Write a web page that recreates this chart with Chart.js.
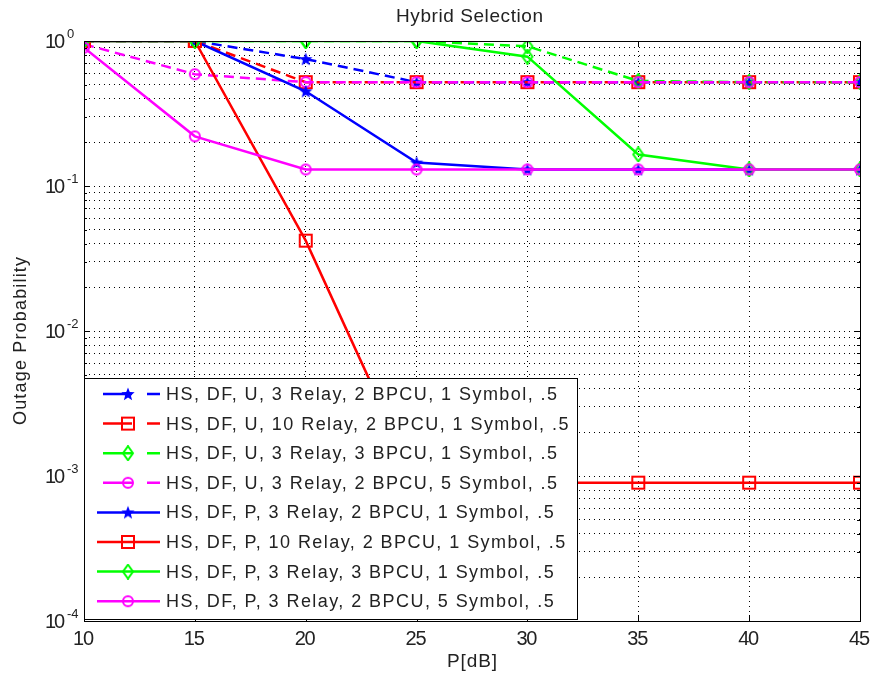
<!DOCTYPE html>
<html lang="en">
<head>
<meta charset="UTF-8" />
<title>Hybrid Selection</title>
<script src="https://cdn.jsdelivr.net/npm/chart.js"></script>
<style>
  html, body { margin: 0; padding: 0; background: #fff; }
  canvas { display: block; }
</style>
</head>
<body>
<canvas id="outageChart" width="871" height="681"></canvas>
<script>
  // x values (P in dB)
  const snrDb = [10, 15, 20, 25, 30, 35, 40, 45];

  // outage probability
  const hsDfU3Relay2Bpcu1Sym = [1, 1, 0.75, 0.52, 0.52, 0.52, 0.52, 0.52];
  const hsDfU10Relay2Bpcu1Sym = [1, 1, 0.52, 0.52, 0.52, 0.52, 0.52, 0.52];
  const hsDfU3Relay3Bpcu1Sym = [1, 1, 1, 1, 0.92, 0.53, 0.52, 0.52];
  const hsDfU3Relay2Bpcu5Sym = [0.95, 0.59, 0.52, 0.52, 0.52, 0.52, 0.52, 0.52];
  const hsDfP3Relay2Bpcu1Sym = [1, 1, 0.45, 0.145, 0.13, 0.13, 0.13, 0.13];
  const hsDfP10Relay2Bpcu1Sym = [1, 1, 0.042, 0.0009, 0.0009, 0.0009, 0.0009, 0.0009];
  const hsDfP3Relay3Bpcu1Sym = [1, 1, 1, 1, 0.78, 0.165, 0.13, 0.13];
  const hsDfP3Relay2Bpcu5Sym = [0.9, 0.22, 0.13, 0.13, 0.13, 0.13, 0.13, 0.13];

  const seriesLabels = [
    'HS, DF, U, 3 Relay, 2 BPCU, 1 Symbol, .5',
    'HS, DF, U, 10 Relay, 2 BPCU, 1 Symbol, .5',
    'HS, DF, U, 3 Relay, 3 BPCU, 1 Symbol, .5',
    'HS, DF, U, 3 Relay, 2 BPCU, 5 Symbol, .5',
    'HS, DF, P, 3 Relay, 2 BPCU, 1 Symbol, .5',
    'HS, DF, P, 10 Relay, 2 BPCU, 1 Symbol, .5',
    'HS, DF, P, 3 Relay, 3 BPCU, 1 Symbol, .5',
    'HS, DF, P, 3 Relay, 2 BPCU, 5 Symbol, .5'
  ];

  const xTicks = [10, 15, 20, 25, 30, 35, 40, 45];
  const yExponents = [0, -1, -2, -3, -4];

  const FONT = '"Liberation Sans", Arial, sans-serif';
  const BLUE = '#0000ff', RED = '#ff0000', GREEN = '#00ff00', MAGENTA = '#ff00ff';

  // marker images, MATLAB style
  function makeMarker(kind, color) {
    const c = document.createElement('canvas');
    c.width = 16; c.height = 16;
    const g = c.getContext('2d');
    g.strokeStyle = color;
    g.fillStyle = color;
    g.lineWidth = 2;
    g.beginPath();
    if (kind === 'star') {
      for (let i = 0; i < 10; i++) {
        const r = i % 2 === 0 ? 7 : 3;
        const a = -Math.PI / 2 + i * Math.PI / 5;
        const px = 8 + r * Math.cos(a), py = 8.5 + r * Math.sin(a);
        if (i === 0) g.moveTo(px, py); else g.lineTo(px, py);
      }
      g.closePath();
      g.fill();
    } else if (kind === 'square') {
      g.rect(2, 2, 12, 12);
      g.stroke();
    } else if (kind === 'diamond') {
      g.moveTo(8, 1); g.lineTo(13, 8); g.lineTo(8, 15); g.lineTo(3, 8);
      g.closePath();
      g.stroke();
    } else {
      g.arc(8, 8, 5, 0, Math.PI * 2);
      g.stroke();
    }
    return c;
  }

  const markerKinds = ['star', 'square', 'diamond', 'circle'];
  const seriesColors = [BLUE, RED, GREEN, MAGENTA];
  const allSeries = [
    hsDfU3Relay2Bpcu1Sym, hsDfU10Relay2Bpcu1Sym, hsDfU3Relay3Bpcu1Sym, hsDfU3Relay2Bpcu5Sym,
    hsDfP3Relay2Bpcu1Sym, hsDfP10Relay2Bpcu1Sym, hsDfP3Relay3Bpcu1Sym, hsDfP3Relay2Bpcu5Sym
  ];

  const datasets = allSeries.map((vals, i) => {
    const color = seriesColors[i % 4];
    return {
      label: seriesLabels[i],
      data: vals.map((v, k) => ({ x: snrDb[k], y: v })),
      borderColor: color,
      backgroundColor: color,
      borderWidth: 2.5,
      borderDash: i < 4 ? [10, 6] : [],
      pointStyle: makeMarker(markerKinds[i % 4], color),
      pointRadius: 6,
      tension: 0,
      order: 8 - i  // later series on top
    };
  });

  // draws text stretched with letter spacing to a given width (left aligned)
  function spacedText(ctx, text, x, y, width) {
    ctx.letterSpacing = '0px';
    const w = ctx.measureText(text).width;
    const sp = text.length > 1 ? (width - w) / (text.length - 1) : 0;
    ctx.letterSpacing = sp + 'px';
    ctx.textAlign = 'left';
    ctx.fillText(text, x, y);
    ctx.letterSpacing = '0px';
  }

  // frame, tick labels, titles and the legend box
  const matlabDecor = {
    id: 'matlabDecor',
    afterDraw(chart) {
      const ctx = chart.ctx;
      const area = chart.chartArea;
      const xs = chart.scales.x, ys = chart.scales.y;
      ctx.save();

      // box
      ctx.strokeStyle = '#000';
      ctx.lineWidth = 1;
      ctx.strokeRect(Math.round(area.left) + 0.5, Math.round(area.top) + 0.5,
        Math.round(area.right - area.left), Math.round(area.bottom - area.top));

      // tick marks
      ctx.beginPath();
      xTicks.forEach(t => {
        const px = Math.round(xs.getPixelForValue(t)) + 0.5;
        ctx.moveTo(px, area.bottom); ctx.lineTo(px, area.bottom - 6);
        ctx.moveTo(px, area.top); ctx.lineTo(px, area.top + 6);
      });
      for (let e = -4; e <= 0; e++) {
        for (let m = 1; m <= 9; m++) {
          const v = m * Math.pow(10, e);
          if (v > 1) break;
          const py = Math.round(ys.getPixelForValue(v)) + 0.5;
          const len = m === 1 ? 6 : 3;
          ctx.moveTo(area.left, py); ctx.lineTo(area.left + len, py);
          ctx.moveTo(area.right, py); ctx.lineTo(area.right - len, py);
        }
      }
      ctx.stroke();

      ctx.fillStyle = '#222';
      // x tick labels
      ctx.font = '20px ' + FONT;
      ctx.textBaseline = 'middle';
      xTicks.forEach(t => spacedText(ctx, String(t), xs.getPixelForValue(t) - 11, area.bottom + 18, 21));

      // y tick labels 10^k
      yExponents.forEach(e => {
        const py = ys.getPixelForValue(Math.pow(10, e));
        ctx.font = '20px ' + FONT;
        ctx.textBaseline = 'middle';
        spacedText(ctx, '10', 45, py + 1, 20);
        ctx.font = '13px ' + FONT;
        ctx.textAlign = 'left';
        ctx.fillText(String(e), 67, py - 7);
      });

      // titles
      ctx.textBaseline = 'middle';
      ctx.font = '19px ' + FONT;
      spacedText(ctx, 'Hybrid Selection', 396, 17, 147);
      ctx.font = '19px ' + FONT;
      spacedText(ctx, 'P[dB]', 447, 662, 50);
      ctx.save();
      ctx.translate(21, 425);
      ctx.rotate(-Math.PI / 2);
      ctx.font = '18px ' + FONT;
      spacedText(ctx, 'Outage Probability', 0, 0, 168);
      ctx.restore();

      // legend
      const lx = 84, ly = 378, lw = 493, lh = 241;
      ctx.fillStyle = '#fff';
      ctx.fillRect(lx, ly, lw, lh);
      ctx.strokeStyle = '#000';
      ctx.lineWidth = 1;
      ctx.strokeRect(lx + 0.5, ly + 0.5, lw, lh);
      ctx.font = '18px ' + FONT;
      ctx.letterSpacing = '0px';
      const base = ctx.measureText(seriesLabels[0]).width;
      const sp = (391 - base) / (seriesLabels[0].length - 1);
      chart.data.datasets.forEach((ds, i) => {
        const y = 394 + i * 29.6;
        ctx.strokeStyle = ds.borderColor;
        ctx.lineWidth = 2.5;
        ctx.beginPath();
        if (i < 4) {
          ctx.moveTo(103, y); ctx.lineTo(132, y);
          ctx.moveTo(147, y); ctx.lineTo(160, y);
        } else {
          ctx.moveTo(97, y); ctx.lineTo(160, y);
        }
        ctx.stroke();
        const img = ds.pointStyle;
        ctx.drawImage(img, 128 - img.width / 2, y - img.height / 2);
        ctx.fillStyle = '#222';
        ctx.font = '18px ' + FONT;
        ctx.textAlign = 'left';
        ctx.textBaseline = 'middle';
        ctx.letterSpacing = sp + 'px';
        ctx.fillText(ds.label, 166, y + 1);
        ctx.letterSpacing = '0px';
      });
      ctx.restore();
    }
  };

  const ctx = document.getElementById('outageChart').getContext('2d');
  const chart = new Chart(ctx, {
    type: 'line',
    data: { datasets: datasets },
    options: {
      responsive: false,
      animation: false,
      devicePixelRatio: 1,
      layout: { padding: { left: 84, right: 11, top: 41, bottom: 60 } },
      plugins: { legend: { display: false }, tooltip: { enabled: false }, title: { display: false } },
      scales: {
        x: {
          type: 'linear',
          min: 10,
          max: 45,
          ticks: { display: false, stepSize: 5 },
          grid: { color: '#000', lineWidth: 1, drawTicks: false },
          border: { display: false, dash: [1, 4] }
        },
        y: {
          type: 'logarithmic',
          min: 0.0001,
          max: 1,
          ticks: { display: false },
          afterBuildTicks: scale => {
            const t = [];
            for (let e = -4; e < 0; e++) {
              for (let m = 1; m <= 9; m++) t.push({ value: m * Math.pow(10, e) });
            }
            t.push({ value: 1 });
            scale.ticks = t;
          },
          grid: { color: '#000', lineWidth: 1, drawTicks: false },
          border: { display: false, dash: [1, 4] }
        }
      }
    },
    plugins: [matlabDecor]
  });
</script>
</body>
</html>
